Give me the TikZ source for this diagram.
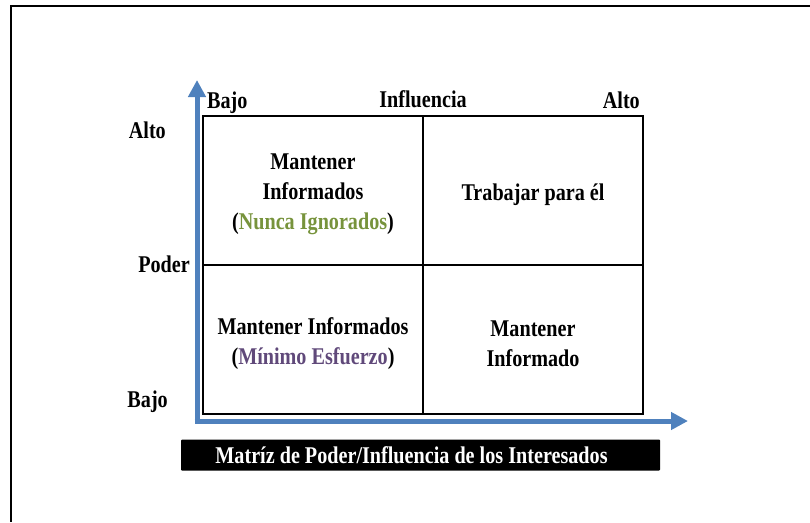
\documentclass[tikz,border=0pt]{standalone}
\usepackage{fontspec}
\setmainfont{Liberation Serif}[FakeStretch=0.84]
\usetikzlibrary{arrows.meta}
\definecolor{axisblue}{RGB}{79,129,189}
\definecolor{olivegreen}{RGB}{119,147,60}
\definecolor{plum}{RGB}{96,73,122}

\begin{document}
\begin{tikzpicture}[x=1pt,y=-1pt,font=\bfseries\fontsize{24}{30}\selectfont,
    cell/.style={draw,line width=2pt,minimum width=220pt,minimum height=149pt,
                 inner sep=0pt},
    celltext/.style={align=center,inner sep=0pt,yshift=-4pt},
    axis/.style={axisblue,line width=5pt,-{Triangle[length=17pt,width=17pt]}},
    tag/.style={inner sep=0pt}]
\useasboundingbox (0,0) rectangle (810,522);
%The outer frame only shows its top and left sides
\draw[line width=2pt] (810,5.5) -- (10.5,5.5) -- (10.5,522);
%Start with the four quadrants of the matrix, then put the
% text of each one in the middle of its cell
\node[cell] (lowhigh) at (313,190.5) {};
\node[cell] (highhigh) at (533,190.5) {};
\node[cell] (lowlow) at (313,339.5) {};
\node[cell] (highlow) at (533,339.5) {};
\node[celltext] (lowhightext) at (lowhigh.center) {Mantener\\Informados\\
    (\textcolor{olivegreen}{Nunca Ignorados})};
\node[celltext] (highhightext) at (highhigh.center) {Trabajar para él};
\node[celltext] (lowlowtext) at (lowlow.center) {Mantener Informados\\
    (\textcolor{plum}{Mínimo Esfuerzo})};
\node[celltext] (highlowtext) at (highlow.center) {Mantener\\Informado};
%Now the two axes, drawn between named coordinates
\coordinate (origin) at (197,421);
\coordinate (ytip) at (197,80);
\coordinate (xtip) at (688,421);
\draw[axis] (origin) -- (ytip);
\draw[axis] ([xshift=-2.5pt]origin) -- (xtip);
%Labels along the top (Influencia)
\node[tag,anchor=base west] (inflow) at (207,108) {Bajo};
\node[tag,anchor=base] (infl) at (423,107) {Influencia};
\node[tag,anchor=base east] (infhigh) at (640,108) {Alto};
%Labels along the left side (Poder)
\node[tag,anchor=base east] (powhigh) at (166,138) {Alto};
\node[tag,anchor=base east] (pow) at (190,272) {Poder};
\node[tag,anchor=base east] (powlow) at (168,407) {Bajo};
%The title in a black box under the matrix, its text sits a bit
% to the left of the middle of the box
\node[fill=black,minimum width=479pt,minimum height=31pt,inner sep=0pt,
      rounded corners=1pt] (title) at (420.5,455) {};
\node[text=white,inner sep=0pt] (titletext) at ([xshift=-9pt]title.center)
      {Matríz de Poder/Influencia de los Interesados};
\end{tikzpicture}
\end{document}
